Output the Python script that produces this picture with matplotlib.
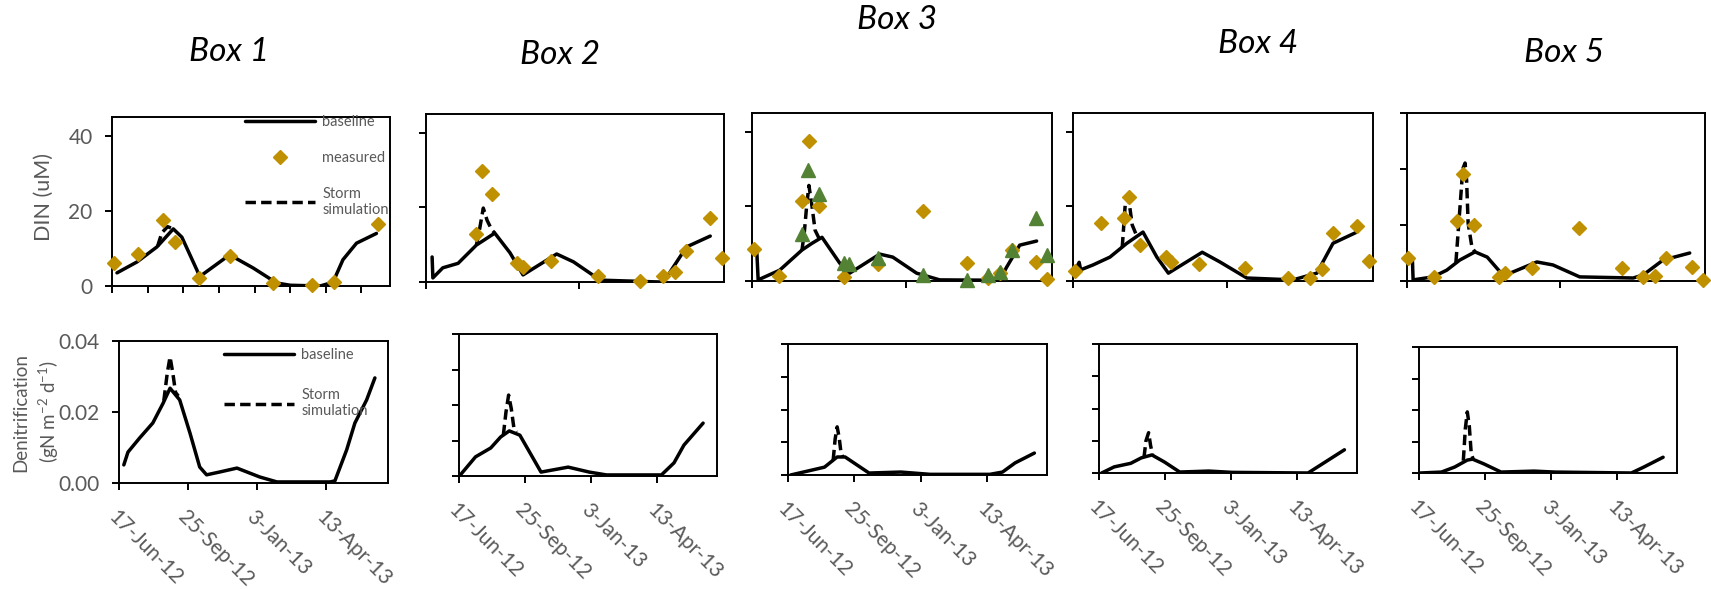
import numpy as np
import matplotlib
matplotlib.use('Agg')
import matplotlib.pyplot as plt

plt.rcParams['font.family'] = ['Lato', 'DejaVu Sans']
plt.rcParams['mathtext.fontset'] = 'custom'
plt.rcParams['mathtext.rm'] = 'Lato'

# ---- data: days after 17-Jun-2012 ----
START = np.datetime64('2012-06-17T00')
SPAN_DAYS = 390

# DIN (uM), top row
b1_din_base_d = [7, 35, 63, 86, 98, 119, 123, 165, 198, 231, 250, 292, 310, 324, 343, 371]
b1_din_base_v = [3.5, 6.4, 10.4, 15.2, 13.0, 4.3, 2.5, 8.3, 4.8, 0.8, 0.2, 0.0, 1.0, 7.0, 11.4, 14.0]
b1_din_storm_d = [64, 70, 78, 86]
b1_din_storm_v = [10.6, 14.2, 15.8, 15.2]
b1_meas_d = [3, 36, 72, 88, 122, 165, 226, 281, 311, 373]
b1_meas_v = [6.1, 8.5, 17.6, 11.7, 2.2, 8.1, 0.7, 0.3, 1.0, 16.6]

b2_din_base_d = [8, 9, 22, 42, 66, 90, 110, 127, 171, 193, 228, 306, 315, 341, 372]
b2_din_base_v = [6.7, 1.1, 3.8, 5.0, 9.9, 13.1, 7.8, 1.9, 7.5, 5.4, 0.5, 0.0, 1.3, 9.4, 12.3]
b2_din_storm_d = [66, 70, 75, 80, 86, 90]
b2_din_storm_v = [9.9, 14.0, 19.8, 16.5, 14.0, 13.1]
b2_meas_d = [65, 73, 87, 119, 127, 164, 225, 280, 310, 326, 340, 372, 387]
b2_meas_v = [12.9, 29.8, 23.6, 5.1, 4.0, 5.6, 1.6, 0.3, 1.6, 2.7, 8.3, 17.2, 6.4]

b3_din_base_d = [6, 8, 36, 65, 78, 91, 114, 127, 166, 183, 214, 244, 322, 331, 348, 370]
b3_din_base_v = [9.0, 0.3, 2.9, 8.3, 10.1, 11.7, 4.8, 2.1, 7.2, 6.4, 2.1, 0.3, 0.2, 3.7, 9.6, 10.7]
b3_din_storm_d = [65, 68, 71, 74, 78, 82, 87, 91]
b3_din_storm_v = [8.3, 13.0, 20.0, 25.6, 20.0, 13.6, 11.5, 11.7]
b3_meas_d = [2, 35, 65, 74, 87, 120, 164, 222, 280, 307, 322, 338, 369, 384]
b3_meas_v = [8.5, 1.3, 21.3, 37.6, 20.0, 1.1, 4.5, 18.7, 4.8, 0.8, 2.1, 8.3, 5.1, 0.5]
b3_meas2_d = [65, 73, 87, 120, 126, 164, 222, 280, 307, 322, 338, 369, 384]
b3_meas2_v = [12.5, 29.6, 23.2, 4.8, 4.5, 6.1, 1.6, 0.3, 1.6, 2.4, 8.3, 17.0, 6.9]

b4_din_base_d = [3, 8, 10, 26, 48, 70, 91, 109, 124, 168, 191, 226, 286, 317, 338, 369]
b4_din_base_v = [2.9, 5.0, 3.0, 4.3, 6.4, 10.1, 13.1, 6.4, 2.1, 7.7, 5.1, 0.8, 0.3, 2.1, 10.1, 13.1]
b4_din_storm_d = [64, 68, 72, 77, 82, 88]
b4_din_storm_v = [9.0, 20.8, 22.5, 15.0, 12.5, 12.7]
b4_meas_d = [3, 36, 66, 73, 87, 121, 127, 164, 224, 280, 308, 324, 338, 369, 385]
b4_meas_v = [2.7, 15.5, 16.8, 22.4, 9.6, 6.4, 5.1, 4.5, 3.5, 0.8, 0.8, 3.2, 12.8, 14.7, 5.3]

b5_din_base_d = [7, 8, 34, 52, 69, 89, 105, 122, 129, 170, 191, 226, 296, 309, 335, 370]
b5_din_base_v = [6.2, 0.3, 1.1, 2.9, 5.6, 7.8, 6.4, 2.4, 1.6, 5.1, 4.3, 1.1, 0.8, 1.6, 5.6, 7.5]
b5_din_storm_d = [64, 68, 73, 76, 78, 80, 85, 89]
b5_din_storm_v = [5.0, 16.0, 30.0, 31.6, 27.0, 15.5, 9.0, 7.8]
b5_meas_d = [1, 35, 65, 73, 88, 120, 128, 164, 225, 281, 309, 325, 339, 373, 387]
b5_meas_v = [6.2, 1.1, 16.1, 28.7, 15.0, 1.1, 2.1, 3.5, 14.2, 3.5, 1.1, 1.3, 6.2, 3.8, 0.3]

# Denitrification (gN m-2 d-1), bottom row
b1_den_base_d = [7, 13, 30, 49, 64, 74, 88, 103, 117, 127, 146, 171, 204, 229, 306, 313, 330, 342, 359, 371]
b1_den_base_v = [0.0051, 0.0087, 0.0127, 0.0169, 0.0225, 0.0267, 0.0234, 0.0140, 0.0045, 0.0023,
                 0.0031, 0.0042, 0.0017, 0.0003, 0.0003, 0.0006, 0.0093, 0.0169, 0.0234, 0.0296]
b1_den_storm_d = [65, 70, 74, 78, 82, 86]
b1_den_storm_v = [0.0232, 0.0310, 0.0355, 0.0310, 0.0255, 0.0245]

b2_den_base_d = [2, 25, 48, 63, 76, 92, 124, 165, 197, 223, 306, 325, 340, 369]
b2_den_base_v = [0.0003, 0.0054, 0.0079, 0.0110, 0.0127, 0.0115, 0.0011, 0.0025, 0.0011, 0.0003,
                 0.0003, 0.0037, 0.0087, 0.0149]
b2_den_storm_d = [67, 71, 75, 79, 83, 87]
b2_den_storm_v = [0.0115, 0.0180, 0.0228, 0.0190, 0.0135, 0.0124]

b3_den_base_d = [4, 36, 55, 74, 86, 122, 170, 214, 304, 323, 342, 371]
b3_den_base_v = [0.0, 0.0015, 0.0024, 0.0055, 0.0055, 0.0006, 0.0009, 0.0002, 0.0002, 0.0009, 0.0037, 0.0067]
b3_den_storm_d = [68, 71, 74, 77, 80, 83]
b3_den_storm_v = [0.0045, 0.0110, 0.0147, 0.0115, 0.0065, 0.0054]

b4_den_base_d = [4, 23, 48, 64, 80, 99, 122, 166, 201, 316, 342, 371]
b4_den_base_v = [0.0, 0.0019, 0.0030, 0.0047, 0.0056, 0.0034, 0.0003, 0.0006, 0.0002, 0.0, 0.0034, 0.0072]
b4_den_storm_d = [68, 71, 75, 78, 81]
b4_den_storm_v = [0.0048, 0.0100, 0.0125, 0.0085, 0.0056]

b5_den_base_d = [2, 34, 54, 73, 81, 98, 124, 174, 205, 321, 340, 369]
b5_den_base_v = [0.0, 0.0003, 0.0019, 0.0041, 0.0044, 0.0029, 0.0003, 0.0006, 0.0003, 0.0, 0.0019, 0.0050]
b5_den_storm_d = [67, 70, 73, 76, 79, 82]
b5_den_storm_v = [0.0039, 0.0140, 0.0194, 0.0150, 0.0060, 0.0044]

box_titles = ['Box 1', 'Box 2', 'Box 3', 'Box 4', 'Box 5']
date_tick_days = [0, 100, 200, 300]
date_tick_labels = ['17-Jun-12', '25-Sep-12', '3-Jan-13', '13-Apr-13']

GOLD = '#BF9000'
GREEN = '#548235'
GREY = '#595959'

W, H = 1711, 589


def to_dates(days):
    hours = np.round(np.asarray(days, dtype=float) * 24).astype(int)
    return START + hours.astype('timedelta64[h]')


def px_axes(fig, l, t, r, b):
    return fig.add_axes([l / W, 1 - b / H, (r - l) / W, (b - t) / H])


def style_axes(ax):
    for sp in ax.spines.values():
        sp.set_linewidth(1.4)
        sp.set_color('black')
    ax.tick_params(direction='out', length=5, width=1.4, color='black',
                   labelcolor=GREY, labelsize=15, pad=9)
    ax.tick_params(axis='x', labelsize=15, pad=12)
    ax.set_xlim(to_dates([0])[0], to_dates([SPAN_DAYS])[0])


def draw_lines(ax, base_d, base_v, storm_d, storm_v):
    hs, = ax.plot(to_dates(storm_d), storm_v, color='black', lw=2.5,
                  linestyle=(0, (3, 1.5)), zorder=2)
    hb, = ax.plot(to_dates(base_d), base_v, color='black', lw=2.5, zorder=3,
                  solid_joinstyle='round', solid_capstyle='round')
    return hb, hs


fig = plt.figure(figsize=(W / 100, H / 100), dpi=100)

top_boxes = [(112, 117, 390, 286), (426, 114, 724, 282), (752, 113, 1052, 281),
             (1073, 113, 1373, 281), (1407, 113, 1705, 281)]
bot_boxes = [(119, 341, 388, 483), (459, 334, 717, 476), (788, 344, 1047, 475),
             (1099, 344, 1357, 473), (1419, 347, 1677, 473)]
title_pos = [(229, 52), (560, 55), (897, 20), (1258, 44), (1564, 53)]

din_base = [(b1_din_base_d, b1_din_base_v), (b2_din_base_d, b2_din_base_v),
            (b3_din_base_d, b3_din_base_v), (b4_din_base_d, b4_din_base_v),
            (b5_din_base_d, b5_din_base_v)]
din_storm = [(b1_din_storm_d, b1_din_storm_v), (b2_din_storm_d, b2_din_storm_v),
             (b3_din_storm_d, b3_din_storm_v), (b4_din_storm_d, b4_din_storm_v),
             (b5_din_storm_d, b5_din_storm_v)]
din_meas = [(b1_meas_d, b1_meas_v), (b2_meas_d, b2_meas_v), (b3_meas_d, b3_meas_v),
            (b4_meas_d, b4_meas_v), (b5_meas_d, b5_meas_v)]
den_base = [(b1_den_base_d, b1_den_base_v), (b2_den_base_d, b2_den_base_v),
            (b3_den_base_d, b3_den_base_v), (b4_den_base_d, b4_den_base_v),
            (b5_den_base_d, b5_den_base_v)]
den_storm = [(b1_den_storm_d, b1_den_storm_v), (b2_den_storm_d, b2_den_storm_v),
             (b3_den_storm_d, b3_den_storm_v), (b4_den_storm_d, b4_den_storm_v),
             (b5_den_storm_d, b5_den_storm_v)]

for i in range(5):
    # top row: DIN
    ax = px_axes(fig, *top_boxes[i])
    style_axes(ax)
    hb, hs = draw_lines(ax, *din_base[i], *din_storm[i])
    hm, = ax.plot(to_dates(din_meas[i][0]), din_meas[i][1], linestyle='none', marker='D',
                  ms=7, color=GOLD, clip_on=False, zorder=4)
    if i == 2:
        ax.plot(to_dates(b3_meas2_d), b3_meas2_v, linestyle='none', marker='^',
                ms=10.5, color=GREEN, clip_on=False, zorder=5)
    ax.set_ylim(0, 45)
    if i == 4:
        ax.set_yticks([0, 15, 30, 45])
    else:
        ax.set_yticks([0, 20, 40])
    if i == 0:
        ax.set_xticks(to_dates(np.arange(0, 351, 50)))
        ax.set_ylabel('DIN (uM)', fontsize=15.5, color=GREY)
        ax.yaxis.set_label_coords(-0.21, 0.527)
        ax.legend([hb, hm, hs], ['baseline', 'measured', 'Storm\nsimulation'],
                  loc='upper left', bbox_to_anchor=(0.478, 1.012), frameon=False,
                  fontsize=10.5, handlelength=4.8, handletextpad=0.5, labelspacing=1.5,
                  borderpad=0, borderaxespad=0, labelcolor=GREY, numpoints=1)
    else:
        ax.set_xticks(to_dates([0, 200]))
        ax.tick_params(labelleft=False)
    ax.tick_params(labelbottom=False)

    fig.text(title_pos[i][0] / W, 1 - title_pos[i][1] / H, box_titles[i],
             fontsize=24, style='italic', ha='center', va='center', color='black')

    # bottom row: denitrification
    ax2 = px_axes(fig, *bot_boxes[i])
    style_axes(ax2)
    hb2, hs2 = draw_lines(ax2, *den_base[i], *den_storm[i])
    ax2.set_ylim(0, 0.04)
    ax2.set_xticks(to_dates(date_tick_days))
    ax2.set_xticklabels(date_tick_labels, rotation=-45, ha='left', rotation_mode='anchor')
    if i == 0:
        ax2.set_yticks([0, 0.02, 0.04])
        ax2.set_yticklabels(['0.00', '0.02', '0.04'])
        ax2.set_ylabel('Denitrification\n(gN m$^{\\mathregular{-2}}$ d$^{\\mathregular{-1}}$)',
                       fontsize=13.5, color=GREY, linespacing=1.35)
        ax2.yaxis.set_label_coords(-0.215, 0.5)
        ax2.legend([hb2, hs2], ['baseline', 'Storm\nsimulation'],
                   loc='upper left', bbox_to_anchor=(0.39, 0.951), frameon=False,
                   fontsize=10.5, handlelength=4.8, handletextpad=0.5, labelspacing=1.8,
                   borderpad=0, borderaxespad=0, labelcolor=GREY)
    else:
        ax2.set_yticks([0, 0.01, 0.02, 0.03, 0.04])
        ax2.tick_params(labelleft=False)

fig.savefig('out.png', dpi=100, facecolor='white')
